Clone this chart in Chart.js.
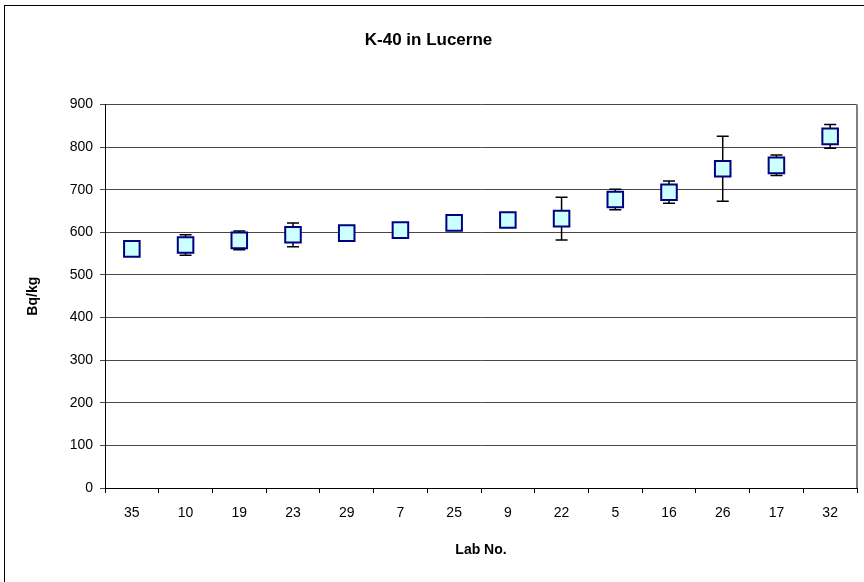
<!DOCTYPE html>
<html>
<head>
<meta charset="utf-8">
<script src="https://cdn.jsdelivr.net/npm/chart.js@4/dist/chart.umd.min.js"></script>
<style>
  html, body { margin: 0; padding: 0; background: #fff; }
  #wrap { width: 864px; height: 582px; position: relative; }
</style>
</head>
<body>
<div id="wrap"><canvas id="c" width="864" height="582"></canvas></div>
<script>
const labNumbers = ['35', '10', '19', '23', '29', '7', '25', '9', '22', '5', '16', '26', '17', '32'];
const activity = [561, 570, 581, 594, 598, 605, 622, 629, 632, 677, 694, 749, 757, 825];
const uncertainty = [10, 24, 22, 28, 10, 10, 10, 10, 50, 24, 26, 76, 24, 28];
const yTicks = [0, 100, 200, 300, 400, 500, 600, 700, 800, 900];

const FONT = "'Liberation Sans', Arial, sans-serif";

const frame = {
  id: 'frame',
  beforeDraw(chart) {
    const ctx = chart.ctx;
    ctx.save();
    ctx.fillStyle = '#fff';
    ctx.fillRect(0, 0, chart.width, chart.height);
    ctx.strokeStyle = '#000';
    ctx.lineWidth = 1;
    ctx.strokeRect(4.5, 5.5, chart.width + 10, chart.height + 10);
    ctx.restore();
  },
  beforeDatasetsDraw(chart) {
    const { ctx, chartArea } = chart;
    ctx.save();
    ctx.strokeStyle = '#808080';
    ctx.lineWidth = 2;
    ctx.beginPath();
    ctx.moveTo(chartArea.right, chartArea.top);
    ctx.lineTo(chartArea.right, chartArea.bottom);
    ctx.stroke();
    // error bars
    const xs = chart.scales.x, ys = chart.scales.y;
    ctx.strokeStyle = '#000';
    ctx.lineWidth = 1.5;
    activity.forEach((v, i) => {
      const e = uncertainty[i];
      const x = xs.getPixelForValue(i);
      const yt = ys.getPixelForValue(v + e);
      const yb = ys.getPixelForValue(v - e);
      ctx.beginPath();
      ctx.moveTo(x, yt); ctx.lineTo(x, yb);
      ctx.moveTo(x - 6, yt); ctx.lineTo(x + 6, yt);
      ctx.moveTo(x - 6, yb); ctx.lineTo(x + 6, yb);
      ctx.stroke();
    });
    ctx.restore();
  }
};

new Chart(document.getElementById('c'), {
  type: 'line',
  data: {
    labels: labNumbers,
    datasets: [{
      data: activity,
      showLine: false,
      pointStyle: 'rect',
      pointRadius: 11,
      pointHoverRadius: 11,
      pointBackgroundColor: '#CCFFFF',
      pointBorderColor: '#000080',
      pointBorderWidth: 2
    }]
  },
  plugins: [frame],
  options: {
    responsive: false,
    animation: false,
    events: [],
    layout: { autoPadding: false, padding: { left: 0, right: 7, top: 0, bottom: 0 } },
    plugins: {
      legend: { display: false },
      tooltip: { enabled: false },
      title: {
        display: true,
        text: 'K-40 in Lucerne',
        color: '#000',
        font: { family: FONT, size: 17, weight: 'bold' },
        padding: { top: 30, bottom: 54 }
      }
    },
    scales: {
      x: {
        type: 'category',
        offset: true,
        grid: { offset: true, drawOnChartArea: false, drawTicks: true, tickLength: 5, color: '#000', lineWidth: 1 },
        border: { color: '#000', width: 1 },
        ticks: { color: '#000', font: { family: FONT, size: 14 }, padding: 12, maxRotation: 0, autoSkip: false },
        title: { display: true, text: 'Lab No.', color: '#000', font: { family: FONT, size: 14, weight: 'bold' }, padding: { top: 0, bottom: 23 } },
        afterFit(s) { s.height = 94; s.paddingLeft = 0; s.paddingRight = 0; }
      },
      y: {
        min: 0, max: 900,
        afterBuildTicks(s) { s.ticks = yTicks.map(v => ({ value: v })); },
        grid: { color: '#484848', lineWidth: 1, tickLength: 5, drawTicks: true },
        border: { color: '#000', width: 1 },
        ticks: { color: '#000', font: { family: FONT, size: 14 }, padding: 7 },
        title: { display: true, text: 'Bq/kg', color: '#000', font: { family: FONT, size: 14, weight: 'bold' }, padding: { top: 25, bottom: 0 } },
        afterFit(s) { s.width = 105; }
      }
    }
  }
});
</script>
</body>
</html>
